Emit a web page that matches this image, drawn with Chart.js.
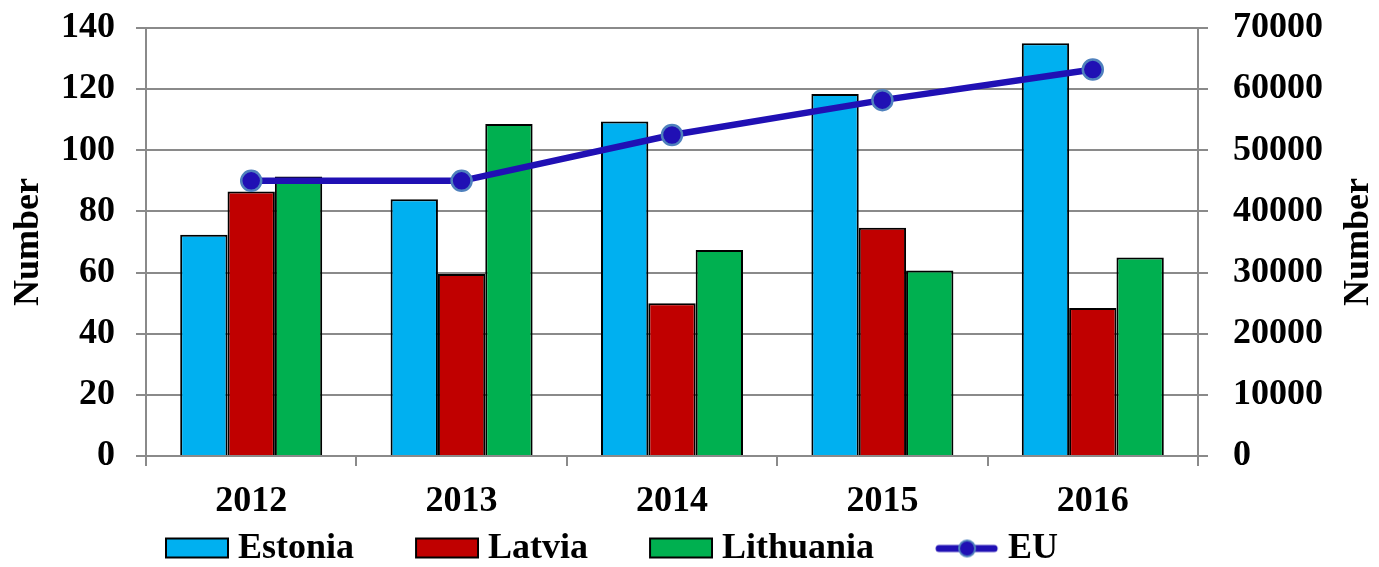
<!DOCTYPE html>
<html>
<head>
<meta charset="utf-8">
<script src="https://cdn.jsdelivr.net/npm/chart.js@4.4.1/dist/chart.umd.min.js"></script>
<style>
  html, body { margin: 0; padding: 0; background: #fff; }
  #wrap { width: 1379px; height: 567px; }
</style>
</head>
<body>
<div id="wrap"><canvas id="chart" width="1379" height="567"></canvas></div>
<script>
// values
const years = ['2012', '2013', '2014', '2015', '2016'];
const estonia = [72.4, 84, 109.4, 118.4, 135];
const latvia = [86.5, 59.5, 50, 74.7, 48.4];
const lithuania = [91.4, 108.6, 67.4, 60.7, 64.9];
const eu = [45000, 45000, 52500, 58200, 63200];

const leftMax = 140, leftStep = 20;
const rightMax = 70000, rightStep = 10000;

const serif = "'Liberation Serif', 'Times New Roman', serif";
const gridGray = '#8a8a8a';
const euBlue = '#2010B4';
const euEdge = '#4F81BD';

Chart.defaults.font.family = serif;
Chart.defaults.font.weight = 'bold';
Chart.defaults.font.size = 36;
Chart.defaults.color = '#000';

// legend icons: a box (or line + dot) drawn at the right end of a small canvas
function legendIcon(kind, color) {
  const c = document.createElement('canvas');
  c.width = 124;
  c.height = 26;
  const g = c.getContext('2d');
  if (kind === 'bar') {
    g.fillStyle = color;
    g.fillRect(61, 3, 62, 19);
    g.strokeStyle = '#000';
    g.lineWidth = 2;
    g.strokeRect(61, 3, 62, 19);
  } else {
    g.strokeStyle = color;
    g.lineWidth = 7;
    g.lineCap = 'round';
    g.beginPath();
    g.moveTo(64, 13);
    g.lineTo(119, 13);
    g.stroke();
    g.beginPath();
    g.arc(92, 13, 8, 0, Math.PI * 2);
    g.fillStyle = color;
    g.fill();
    g.lineWidth = 2;
    g.strokeStyle = euEdge;
    g.stroke();
  }
  return c;
}

const legendPlace = {
  id: 'legendPlace',
  afterLayout(chart) {
    chart.legend.left = 104;
    chart.legend.top = 520.5;
  },
  afterDraw(chart) {
    // right axis title, reading bottom to top like the left one
    const s = chart.scales.y1;
    const ctx = chart.ctx;
    ctx.save();
    ctx.translate(s.right - 20, (chart.chartArea.top + chart.chartArea.bottom) / 2);
    ctx.rotate(-Math.PI / 2);
    ctx.font = 'bold 36px ' + serif;
    ctx.fillStyle = '#000';
    ctx.textAlign = 'center';
    ctx.textBaseline = 'middle';
    ctx.fillText('Number', 0, 0);
    ctx.restore();
  }
};

// tick padding would otherwise be added to the plot's top/bottom margin
function fixSide(width) {
  return scale => {
    scale.width = width;
    scale.paddingTop = 22;
    scale.paddingBottom = 22;
  };
}

const barStyle = { borderColor: '#000', borderWidth: 2, categoryPercentage: 0.675, barPercentage: 1.0 };

new Chart(document.getElementById('chart'), {
  type: 'bar',
  data: {
    labels: years,
    datasets: [
      { label: 'Estonia', data: estonia, backgroundColor: '#00B0F0', ...barStyle },
      { label: 'Latvia', data: latvia, backgroundColor: '#C00000', ...barStyle },
      { label: 'Lithuania', data: lithuania, backgroundColor: '#00B050', ...barStyle },
      {
        type: 'line', label: 'EU', data: eu, yAxisID: 'y1', order: -1,
        borderColor: euBlue, borderWidth: 6.5, tension: 0,
        pointRadius: 10, pointBackgroundColor: euBlue,
        pointBorderColor: euEdge, pointBorderWidth: 2.5
      }
    ]
  },
  options: {
    responsive: false,
    animation: false,
    layout: { padding: { top: 28, left: 0, right: 0, bottom: 0 } },
    plugins: {
      tooltip: { enabled: false },
      legend: {
        position: 'bottom',
        align: 'start',
        labels: {
          usePointStyle: true,
          pointStyleWidth: 106,
          padding: 10,
          font: { size: 36, weight: 'bold', family: serif },
          generateLabels(chart) {
            const colors = ['#00B0F0', '#C00000', '#00B050'];
            const items = ['Estonia', 'Latvia', 'Lithuania'].map((t, i) => ({
              text: t, datasetIndex: i, hidden: false, lineWidth: 0,
              fillStyle: colors[i], strokeStyle: '#000', fontColor: '#000',
              pointStyle: legendIcon('bar', colors[i])
            }));
            items.push({
              text: 'EU', datasetIndex: 3, hidden: false, lineWidth: 0,
              fillStyle: euBlue, strokeStyle: euBlue, fontColor: '#000',
              pointStyle: legendIcon('line', euBlue)
            });
            return items;
          }
        }
      }
    },
    scales: {
      x: {
        grid: { offset: true, drawOnChartArea: false, drawTicks: true, tickLength: 10, color: gridGray, lineWidth: 2 },
        border: { display: true, color: gridGray, width: 2 },
        ticks: { padding: 14, font: { size: 36, weight: 'bold' } },
        afterFit(scale) { scale.height = 55; }
      },
      y: {
        position: 'left',
        min: 0, max: leftMax,
        ticks: { stepSize: leftStep, padding: 21, font: { size: 36, weight: 'bold' } },
        grid: { color: gridGray, lineWidth: 2, tickLength: 10 },
        border: { display: true, color: gridGray, width: 2 },
        title: { display: true, text: 'Number', padding: { top: 7, bottom: 0 }, font: { size: 36, weight: 'bold' } },
        afterFit: fixSide(146)
      },
      y1: {
        position: 'right',
        min: 0, max: rightMax,
        ticks: { stepSize: rightStep, padding: 25, font: { size: 36, weight: 'bold' }, callback: v => String(v) },
        grid: { drawOnChartArea: false, color: gridGray, lineWidth: 2, tickLength: 10 },
        border: { display: true, color: gridGray, width: 2 },
        afterFit: fixSide(181)
      }
    }
  },
  plugins: [legendPlace]
});
</script>
</body>
</html>
